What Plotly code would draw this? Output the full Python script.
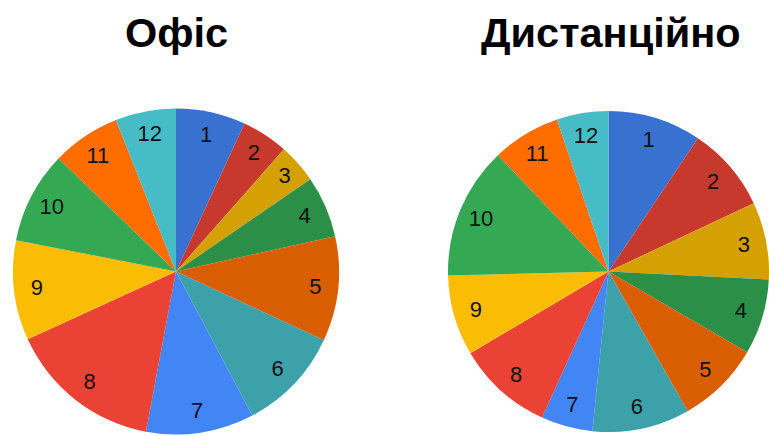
import plotly.graph_objects as go

labels = [str(i) for i in range(1, 13)]
office = [6.9, 4.6, 3.9, 6.1, 10.4, 10.3, 10.7, 15.2, 9.9, 9.1, 6.8, 6.0]
remote = [9.4, 8.6, 7.8, 7.6, 8.4, 9.8, 5.2, 9.7, 8.1, 13.3, 6.9, 5.2]
titles = ["Офіс", "Дистанційно"]
colors = ["#3871CF", "#C7392D", "#D5A003", "#2C8F47", "#D95D01", "#3CA1A8",
          "#4285F4", "#EA4335", "#FBBC04", "#34A853", "#FF6D01", "#46BDC6"]

W, H = 769, 436
left_dom = dict(x=[13 / W, 339 / W], y=[1 - 434.5 / H, 1 - 108.5 / H])
right_dom = dict(x=[448 / W, 1.0], y=[1 - 434.5 / H, 1 - 108.5 / H])

fig = go.Figure()
for vals, dom in [(office, left_dom), (remote, right_dom)]:
    # filled slices
    fig.add_trace(go.Pie(
        labels=labels, values=vals, sort=False, direction="clockwise", rotation=0,
        marker=dict(colors=colors, line=dict(width=0)),
        textinfo="none", domain=dom, hoverinfo="skip", showlegend=False,
    ))
    # transparent ring carrying the labels near the rim
    fig.add_trace(go.Pie(
        labels=labels, values=vals, sort=False, direction="clockwise", rotation=0,
        hole=0.72,
        marker=dict(colors=["rgba(0,0,0,0)"] * len(labels), line=dict(width=0)),
        textinfo="label", textposition="inside", insidetextorientation="horizontal",
        insidetextfont=dict(family="Liberation Sans, Arial", size=22, color="#111111"),
        domain=dom, hoverinfo="skip", showlegend=False,
    ))

for t, cx in zip(titles, [176 / W, 611 / W]):
    fig.add_annotation(text="<b>%s</b>" % t, x=cx, y=1 - 32 / H, xref="paper", yref="paper",
                       xanchor="center", yanchor="middle", showarrow=False,
                       font=dict(family="Liberation Sans, Arial", size=41.5, color="#000000"))

fig.update_layout(width=W, height=H, margin=dict(l=0, r=0, t=0, b=0),
                  paper_bgcolor="white", plot_bgcolor="white", showlegend=False)
fig.write_html("out.html")
